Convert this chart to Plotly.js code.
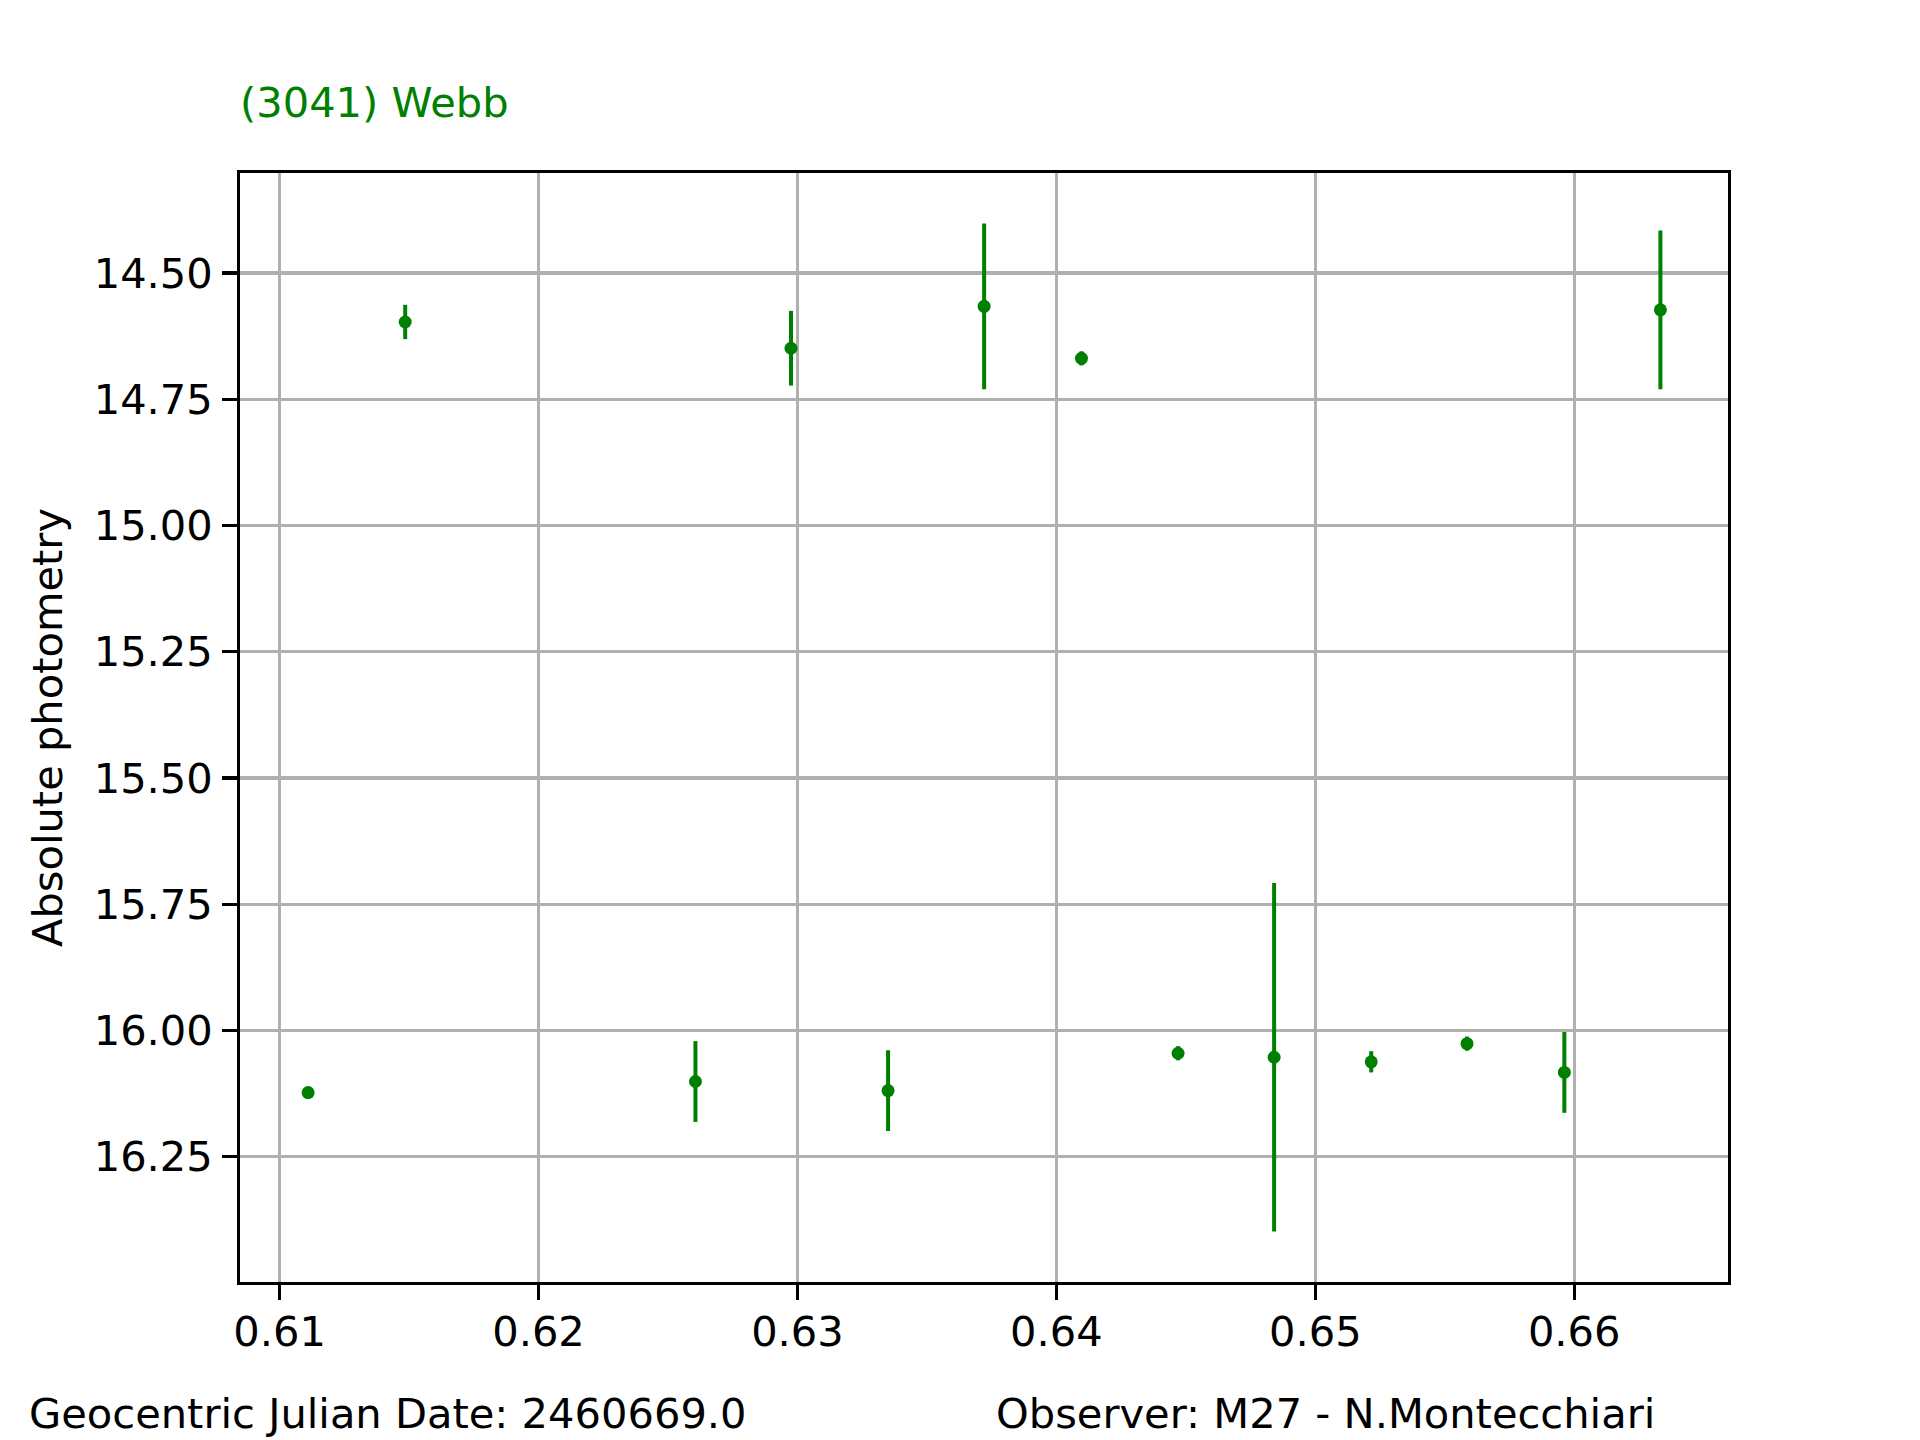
<!DOCTYPE html>
<html>
<head>
<meta charset="utf-8">
<script src="https://cdn.plot.ly/plotly-3.0.1.min.js"></script>
<style>
  html, body { margin: 0; padding: 0; background: #fff; }
  #chart { width: 1920px; height: 1440px; }
</style>
</head>
<body>
<div id="chart"></div>
<script>
// fractional part of the geocentric JD (base 2460669.0)
var jdFrac = [0.6111, 0.61485, 0.62606, 0.62975, 0.6335, 0.63721, 0.64097,
              0.6447, 0.64841, 0.65216, 0.65586, 0.65962, 0.66333];
var mag    = [16.123, 14.597, 16.101, 14.649, 16.119, 14.566, 14.669,
              16.045, 16.053, 16.062, 16.026, 16.083, 14.573];
var magErr = [0.008, 0.034, 0.080, 0.074, 0.080, 0.164, 0.014,
              0.014, 0.345, 0.021, 0.014, 0.080, 0.157];

var objName = "(3041) Webb";
var jdBase = "Geocentric Julian Date: 2460669.0";
var observer = "Observer: M27 - N.Montecchiari";

var green = "#008000";
var lw = 3.3;   // 0.8pt at 300 dpi
var fs = 41.6;

var trace = {
  x: jdFrac,
  y: mag,
  mode: "markers",
  type: "scatter",
  marker: {color: green, size: 13},
  error_y: {type: "data", array: magErr, visible: true, color: green, thickness: 4, width: 0},
  hoverinfo: "x+y"
};

var axisCommon = {
  showgrid: true,
  gridcolor: "#b0b0b0",
  gridwidth: lw,
  zeroline: false,
  showline: true,
  linecolor: "#000",
  linewidth: lw,
  mirror: true,
  ticks: "outside",
  ticklen: 14.6,
  tickwidth: lw,
  tickcolor: "#000",
  tickfont: {family: "DejaVu Sans", size: fs, color: "#000"},
  automargin: false
};

var layout = {
  width: 1920,
  height: 1440,
  margin: {l: 240, r: 192, t: 173, b: 158, pad: 0},
  paper_bgcolor: "#fff",
  plot_bgcolor: "#fff",
  showlegend: false,
  font: {family: "DejaVu Sans", size: fs, color: "#000"},
  title: {
    text: objName,
    font: {family: "DejaVu Sans", size: fs, color: green},
    xref: "paper", x: 0, xanchor: "left",
    yref: "container", y: 1 - 102 / 1440, yanchor: "middle"
  },
  xaxis: Object.assign({}, axisCommon, {
    range: [0.60847, 0.66594],
    tick0: 0.61, dtick: 0.01, tickformat: ".2f",
    ticklabelstandoff: -4
  }),
  yaxis: Object.assign({}, axisCommon, {
    range: [16.498, 14.302],
    tick0: 14.5, dtick: 0.25, tickformat: ".2f",
    ticklabelstandoff: 1,
    title: {text: "Absolute photometry", font: {family: "DejaVu Sans", size: fs, color: "#000"}, standoff: 19}
  }),
  annotations: [
    {text: jdBase, xref: "paper", yref: "paper", x: -213 / 1488, y: -158 / 1109,
     xanchor: "left", yanchor: "bottom", showarrow: false,
     font: {family: "DejaVu Sans", size: fs, color: "#000"}},
    {text: observer, xref: "paper", yref: "paper", x: 754 / 1488, y: -158 / 1109,
     xanchor: "left", yanchor: "bottom", showarrow: false,
     font: {family: "DejaVu Sans", size: fs, color: "#000"}}
  ]
};

Plotly.newPlot("chart", [trace], layout, {displayModeBar: false, staticPlot: true});
</script>
</body>
</html>
